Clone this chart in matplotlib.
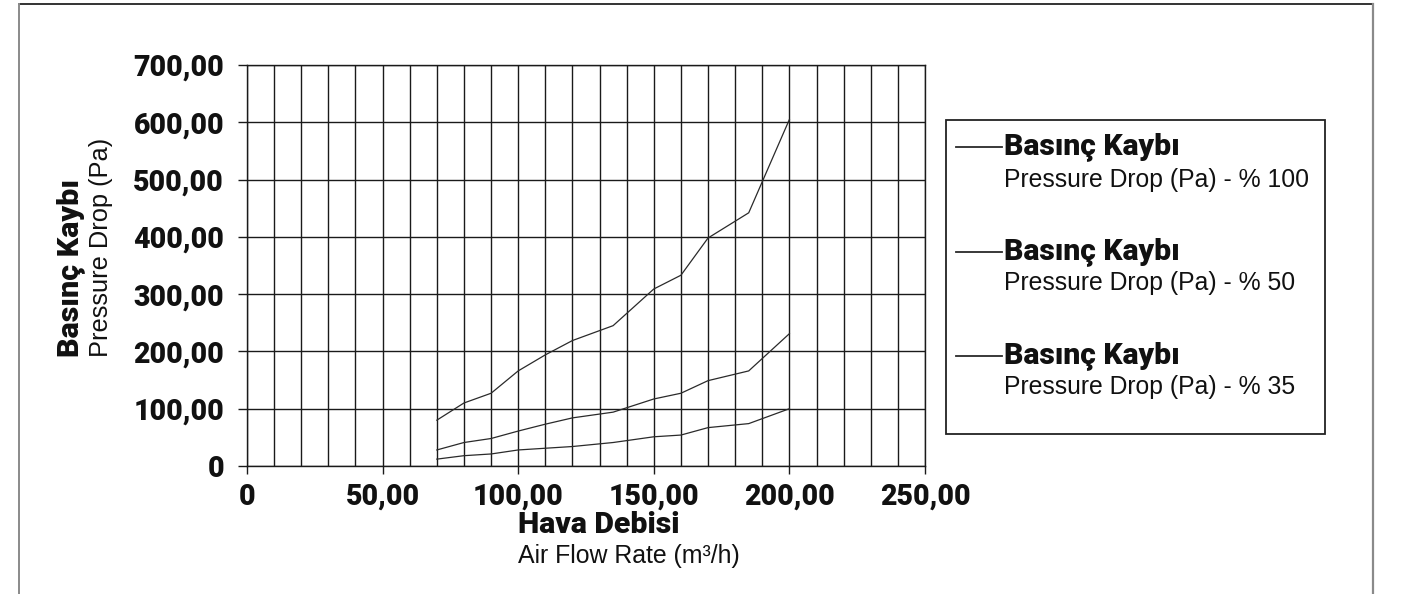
import matplotlib
matplotlib.use("Agg")
import matplotlib.pyplot as plt
from matplotlib import font_manager as fm
from matplotlib.lines import Line2D
from matplotlib.patches import Rectangle
from matplotlib.ticker import MultipleLocator, FixedLocator, FuncFormatter

# ---------------- data ----------------
air_flow = [70, 80, 90, 100, 110, 120, 135, 150, 160, 170, 185, 200]
drop_100 = [80, 110, 127, 166, 194, 219, 245, 309, 333, 398, 442, 605]
drop_50 = [28, 41, 48, 61, 73, 84, 94, 117, 127, 149, 166, 231]
drop_35 = [12, 18, 21, 28, 31, 34, 41, 51, 54, 67, 74, 100]

series_title = "Basınç Kaybı"
series_names = ["Pressure Drop (Pa) - % 100",
                "Pressure Drop (Pa) - % 50",
                "Pressure Drop (Pa) - % 35"]
x_title_bold = "Hava Debisi"
x_title = "Air Flow Rate (m³/h)"
y_title_bold = "Basınç Kaybı"
y_title = "Pressure Drop (Pa)"
x_ticks = [0, 50, 100, 150, 200, 250]
y_ticks = [0, 100, 200, 300, 400, 500, 600, 700]

# ---------------- fonts ----------------
def pick_black():
    have = {}
    for f in fm.fontManager.ttflist:
        if f.style == "normal" and f.stretch == "normal":
            w = f.weight if isinstance(f.weight, int) else 400
            have.setdefault(f.name, set()).add(w)
    for name in ["Roboto", "Inter", "Archivo", "Public Sans", "Work Sans"]:
        if name in have and max(have[name]) >= 850:
            return [name, "DejaVu Sans"]
    if "Archivo Black" in have:
        return ["Archivo Black", "DejaVu Sans"]
    return ["DejaVu Sans"]


W, H = 1404, 594
BOLD = dict(family=pick_black(), weight="black")
REG = dict(family=["Liberation Sans", "Arial", "DejaVu Sans"], weight="normal")
INK = "#1a1a1a"

fig = plt.figure(figsize=(W / 100, H / 100), dpi=100)
renderer = fig.canvas.get_renderer()


def fx(px):
    return px / W


def fy(py):
    return 1 - py / H


def fit_size(s, props, target_px, base=20.0):
    t = fig.text(0, 0, s, fontsize=base, **props)
    w = t.get_window_extent(renderer).width
    t.remove()
    return base * target_px / w


def fmt(v, pos=None):
    return "0" if v == 0 else f"{v:.2f}".replace(".", ",")


ax_l, ax_r, ax_t, ax_b = 247, 925, 65, 466
ax = fig.add_axes([fx(ax_l), fy(ax_b), fx(ax_r) - fx(ax_l), (ax_b - ax_t) / H])

for ys in (drop_100, drop_50, drop_35):
    ax.plot(air_flow, ys, color="#2a2a2a", lw=0.9, solid_joinstyle="miter")

ax.set_xlim(0, 250)
ax.set_ylim(0, 700)
ax.xaxis.set_major_locator(FixedLocator(x_ticks))
ax.xaxis.set_minor_locator(MultipleLocator(10))
ax.yaxis.set_major_locator(FixedLocator(y_ticks))
ax.xaxis.set_major_formatter(FuncFormatter(fmt))
ax.yaxis.set_major_formatter(FuncFormatter(fmt))

ax.grid(True, which="both", axis="x", color=INK, lw=1.0)
ax.grid(True, which="major", axis="y", color=INK, lw=1.0)
ax.set_axisbelow(True)
for sp in ax.spines.values():
    sp.set_color(INK)
    sp.set_linewidth(1.0)

tick_size = fit_size("700,00", BOLD, 90)
ax.tick_params(axis="both", which="major", direction="out", color=INK,
               width=1.0, labelsize=tick_size, labelcolor="#111111")
ax.tick_params(axis="y", which="major", length=6.5, pad=10)
ax.tick_params(axis="x", which="major", length=6, pad=6)
ax.tick_params(axis="x", which="minor", length=0)
for lab in ax.get_xticklabels() + ax.get_yticklabels():
    lab.set_fontfamily(BOLD["family"])
    lab.set_fontweight(BOLD["weight"])

# ---------------- axis titles ----------------
bold_size = fit_size(y_title_bold, BOLD, 178)
ylab_size = fit_size(y_title, REG, 218)
fig.text(fx(71), fy(357), y_title_bold, rotation=90, rotation_mode="anchor",
         ha="left", va="center", fontsize=bold_size, color="#111111", **BOLD)
fig.text(fx(101), fy(357), y_title, rotation=90, rotation_mode="anchor",
         ha="left", va="center", fontsize=ylab_size, color="#111111", **REG)

xb_size = fit_size(x_title_bold, BOLD, 162)
xr_size = fit_size(x_title, REG, 222)
fig.text(fx(518), fy(525), x_title_bold, ha="left", va="center",
         fontsize=xb_size, color="#111111", **BOLD)
fig.text(fx(518), fy(556), x_title, ha="left", va="center",
         fontsize=xr_size, color="#111111", **REG)

# ---------------- legend ----------------
fig.add_artist(Rectangle((fx(946), fy(434)), fx(1325) - fx(946), (434 - 120) / H,
                         transform=fig.transFigure, fill=False, ec="#222222", lw=1.3))
leg_bold = fit_size(series_title, BOLD, 176)
leg_reg = fit_size(series_names[0], REG, 306)
for i, (ly, ry) in enumerate([(147, 180), (252, 283), (356, 387)]):
    fig.add_artist(Line2D([fx(956), fx(1002)], [fy(ly), fy(ly)],
                          transform=fig.transFigure, color="#2a2a2a", lw=1.3))
    fig.text(fx(1004), fy(ly), series_title, ha="left", va="center",
             fontsize=leg_bold, color="#111111", **BOLD)
    fig.text(fx(1004), fy(ry), series_names[i], ha="left", va="center",
             fontsize=leg_reg, color="#111111", **REG)

# ---------------- outer frame ----------------
fig.add_artist(Line2D([fx(19), fx(1373)], [fy(4), fy(4)], transform=fig.transFigure,
                      color="#111111", lw=1.2))
fig.add_artist(Line2D([fx(19), fx(19)], [fy(4), 0], transform=fig.transFigure,
                      color="#8a8a8a", lw=1.4))
fig.add_artist(Line2D([fx(1373), fx(1373)], [fy(4), 0], transform=fig.transFigure,
                      color="#8a8a8a", lw=1.6))

fig.savefig("out.png", dpi=100)
